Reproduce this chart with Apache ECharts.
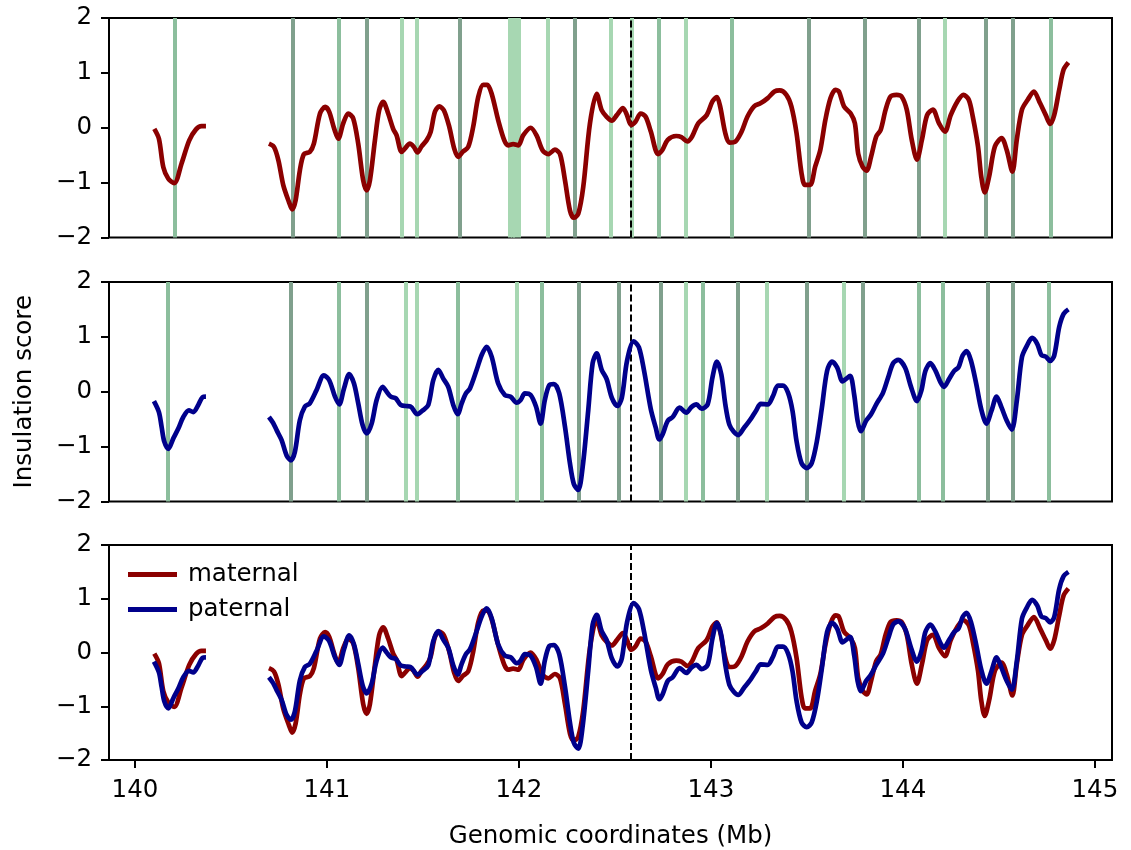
<!DOCTYPE html>
<html>
<head>
<meta charset="utf-8">
<script src="https://cdn.jsdelivr.net/npm/echarts@6/dist/echarts.min.js"></script>
<style>
html,body{margin:0;padding:0;background:#fff;}
#chart{width:1131px;height:850px;}
</style>
</head>
<body>
<div id="chart"></div>
<script>
// ---- data (Mb, insulation score) ----
const matX = [140.101,140.125,140.148,140.174,140.205,140.243,140.283,140.318,140.347,140.370,140.53,
140.698,140.724,140.747,140.773,140.802,140.819,140.837,140.859,140.880,140.911,140.932,140.964,140.991,141.012,141.038,141.059,141.085,141.111,141.137,141.163,141.189,141.207,141.224,141.250,141.272,141.293,141.319,141.345,141.363,141.389,141.406,141.432,141.453,141.472,141.493,141.519,141.540,141.5625,141.585,141.609,141.637,141.663,141.684,141.707,141.736,141.762,141.788,141.814,141.835,141.858,141.892,141.924,141.944,141.970,141.997,142.022,142.061,142.092,142.123,142.153,142.1875,142.214,142.240,142.266,142.286,142.309,142.335,142.370,142.405,142.431,142.457,142.484,142.510,142.542,142.563,142.584,142.607,142.634,142.660,142.687,142.725,142.748,142.775,142.819,142.846,142.878,142.902,142.934,142.978,143.008,143.031,143.048,143.075,143.096,143.128,143.160,143.190,143.225,143.260,143.296,143.331,143.358,143.393,143.419,143.446,143.472,143.490,143.517,143.543,143.570,143.596,143.623,143.649,143.667,143.693,143.728,143.750,143.767,143.790,143.811,143.834,143.861,143.884,143.910,143.936,143.967,143.993,144.020,144.046,144.073,144.099,144.126,144.156,144.188,144.219,144.249,144.284,144.315,144.343,144.364,144.391,144.408,144.426,144.449,144.479,144.514,144.541,144.570,144.593,144.620,144.650,144.682,144.714,144.744,144.767,144.788,144.814,144.837,144.862];
const matY = [-0.02,-0.20,-0.72,-0.93,-1.01,-0.65,-0.23,-0.03,0.03,0.03,null,
-0.29,-0.35,-0.59,-1.05,-1.35,-1.49,-1.32,-0.78,-0.48,-0.44,-0.29,0.26,0.38,0.29,-0.02,-0.20,0.08,0.26,0.17,-0.29,-0.96,-1.14,-0.96,-0.23,0.32,0.47,0.26,-0.02,-0.14,-0.44,-0.38,-0.29,-0.35,-0.45,-0.34,-0.23,-0.08,0.29,0.39,0.32,0.02,-0.38,-0.53,-0.44,-0.35,0.02,0.56,0.78,0.78,0.62,0.14,-0.23,-0.32,-0.30,-0.32,-0.14,0.00,-0.14,-0.41,-0.48,-0.40,-0.48,-0.96,-1.51,-1.64,-1.57,-1.08,0.08,0.62,0.32,0.20,0.13,0.23,0.36,0.23,0.05,0.11,0.26,0.20,-0.07,-0.48,-0.40,-0.22,-0.15,-0.17,-0.25,-0.16,0.08,0.23,0.48,0.56,0.39,-0.10,-0.27,-0.25,-0.07,0.20,0.39,0.45,0.54,0.66,0.68,0.60,0.39,-0.10,-0.83,-1.04,-1.04,-0.71,-0.40,0.14,0.54,0.69,0.66,0.39,0.26,0.08,-0.47,-0.71,-0.78,-0.53,-0.16,-0.04,0.33,0.57,0.60,0.57,0.33,-0.22,-0.58,-0.22,0.23,0.33,0.08,-0.07,0.23,0.48,0.60,0.51,0.20,-0.34,-0.89,-1.18,-0.89,-0.34,-0.19,-0.41,-0.80,-0.22,0.33,0.51,0.66,0.45,0.23,0.07,0.23,0.69,1.06,1.19];

const patX = [140.099,140.125,140.139,140.153,140.174,140.200,140.226,140.252,140.281,140.304,140.330,140.352,140.370,140.53,
140.698,140.720,140.738,140.764,140.790,140.8125,140.833,140.859,140.885,140.911,140.946,140.984,141.012,141.042,141.064,141.089,141.116,141.141,141.163,141.186,141.207,141.233,141.259,141.290,141.311,141.333,141.359,141.384,141.411,141.436,141.471,141.499,141.528,141.554,141.580,141.606,141.632,141.658,141.681,141.702,141.724,141.745,141.780,141.806,141.832,141.858,141.892,141.927,141.957,141.988,142.009,142.031,142.061,142.089,142.113,142.135,142.158,142.182,142.210,142.240,142.266,142.286,142.309,142.332,142.361,142.384,142.405,142.431,142.457,142.484,142.513,142.536,142.563,142.598,142.625,142.652,142.687,142.713,142.731,142.748,142.775,142.801,142.837,142.872,142.898,142.925,142.951,142.983,143.008,143.031,143.054,143.075,143.096,143.119,143.142,143.172,143.207,143.234,143.260,143.296,143.323,143.349,143.375,143.402,143.425,143.446,143.472,143.499,143.525,143.552,143.578,143.605,143.631,143.658,143.685,143.702,143.725,143.746,143.764,143.781,143.808,143.834,143.861,143.896,143.923,143.949,143.976,144.011,144.043,144.073,144.096,144.117,144.143,144.170,144.196,144.214,144.240,144.267,144.290,144.311,144.332,144.355,144.382,144.408,144.435,144.461,144.488,144.514,144.541,144.567,144.593,144.620,144.646,144.673,144.700,144.721,144.744,144.767,144.788,144.814,144.837,144.862];
const patY = [-0.17,-0.37,-0.64,-0.91,-1.04,-0.85,-0.67,-0.46,-0.34,-0.37,-0.24,-0.10,-0.09,null,
-0.46,-0.57,-0.70,-0.88,-1.16,-1.25,-1.10,-0.52,-0.27,-0.21,0.03,0.30,0.21,-0.09,-0.23,0.06,0.32,0.15,-0.21,-0.61,-0.76,-0.58,-0.15,0.09,0.00,-0.09,-0.12,-0.24,-0.26,-0.27,-0.41,-0.34,-0.24,0.21,0.40,0.24,0.09,-0.24,-0.41,-0.21,-0.03,0.06,0.40,0.67,0.82,0.64,0.15,-0.06,-0.09,-0.20,-0.15,-0.03,-0.06,-0.27,-0.58,-0.15,0.12,0.14,-0.03,-0.64,-1.31,-1.68,-1.79,-1.37,-0.34,0.52,0.70,0.40,0.23,-0.11,-0.26,-0.11,0.56,0.92,0.81,0.38,-0.32,-0.66,-0.87,-0.78,-0.53,-0.46,-0.29,-0.38,-0.28,-0.23,-0.31,-0.23,0.26,0.55,0.32,-0.23,-0.60,-0.73,-0.79,-0.66,-0.50,-0.35,-0.22,-0.23,-0.08,0.11,0.11,-0.02,-0.35,-0.90,-1.30,-1.39,-1.30,-0.90,-0.29,0.38,0.55,0.44,0.19,0.23,0.29,-0.05,-0.53,-0.72,-0.53,-0.41,-0.23,-0.02,0.26,0.52,0.58,0.44,0.08,-0.17,0.02,0.38,0.52,0.38,0.17,0.09,0.23,0.38,0.45,0.66,0.74,0.56,0.14,-0.32,-0.58,-0.35,-0.09,-0.29,-0.53,-0.69,-0.17,0.63,0.84,0.98,0.87,0.67,0.64,0.56,0.66,1.18,1.42,1.50];

// TAD boundaries (Mb) and boundary strength class (1 weak .. 3 strong)
const matBounds = [140.205,140.825,141.064,141.212,141.392,141.472,141.693,141.950,141.967,141.984,141.996,142.153,142.292,142.484,142.593,142.731,142.872,143.114,143.511,143.803,144.081,144.223,144.431,144.572,144.773];
const matStrength = [2,3,2,3,1,1,3,1,1,1,1,1,3,1,1,2,1,2,3,3,3,1,3,3,2];
const patBounds = [140.174,140.8125,141.064,141.212,141.415,141.474,141.684,141.993,142.123,142.3125,142.522,142.740,142.872,142.957,143.142,143.292,143.503,143.693,143.794,144.081,144.214,144.443,144.572,144.764];
const patStrength = [2,3,2,3,1,1,2,1,2,3,3,3,1,2,3,1,3,1,3,2,2,3,3,2];
const viewpoint = 142.578;

const xTicks = [140,141,142,143,144,145];
const yTicks = [-2,-1,0,1,2];
const xLabel = 'Genomic coordinates (Mb)';
const yLabel = 'Insulation score';
const names = ['maternal','paternal'];

// ---- chart ----
const FONT = 'DejaVu Sans';
const FS = 24.5;
const matColor = '#8B0000', patColor = '#00008B';
const shade = {1:'#A7D7B2', 2:'#8CBE9D', 3:'#80A08D'};
const xMin = 139.865, xMax = 145.089;

function pairs(xs, ys){ return xs.map((x,i)=>[x, ys[i]===null ? '-' : ys[i]]); }
const minus = v => String(v).replace('-', '\u2212');

const tops = [18, 282, 545];
const grids = tops.map(t => ({left:109, width:1003, top:t, height:219.5, show:true, borderColor:'#000', borderWidth:2, backgroundColor:'transparent'}));

const xAxes = tops.map((t,i)=>({
  type:'value', gridIndex:i, min:xMin, max:xMax, position:'bottom',
  axisLine:{show:false, onZero:false}, splitLine:{show:false},
  axisTick:{show:i===2, length:8, lineStyle:{color:'#000', width:2}, customValues: xTicks},
  axisLabel:{show:i===2, color:'#000', fontFamily:FONT, fontSize:FS, margin:18, customValues: xTicks},
  name: i===2 ? xLabel : '', nameLocation:'middle', nameGap:64,
  nameTextStyle:{color:'#000', fontFamily:FONT, fontSize:FS}
}));
const yAxes = tops.map((t,i)=>({
  type:'value', gridIndex:i, min:-2, max:2, interval:1,
  axisLine:{show:false, onZero:false}, splitLine:{show:false},
  axisTick:{show:true, length:8, lineStyle:{color:'#000', width:2}},
  axisLabel:{color:'#000', fontFamily:FONT, fontSize:FS, margin:17, formatter: v => minus(v)},
  name: i===1 ? yLabel : '', nameLocation:'middle', nameGap:72, nameRotate:90,
  nameTextStyle:{color:'#000', fontFamily:FONT, fontSize:FS}
}));

function boundarySeries(idx, bounds, strength){
  return {
    type:'line', xAxisIndex:idx, yAxisIndex:idx, data:[], silent:true, z:1,
    markLine:{
      silent:true, symbol:['none','none'], label:{show:false}, animation:false,
      data: bounds.map((b,k)=>({xAxis:b, lineStyle:{color:shade[strength[k]], width:4, type:'solid', opacity:1}}))
    }
  };
}
function dashSeries(idx){
  return {
    type:'line', xAxisIndex:idx, yAxisIndex:idx, data:[], silent:true, z:3,
    markLine:{silent:true, symbol:['none','none'], label:{show:false}, animation:false,
      data:[{xAxis:viewpoint, lineStyle:{color:'#000', width:2, type:[7,3]}}]}
  };
}
function curve(idx, name, xs, ys, color){
  return {
    type:'line', name:name, xAxisIndex:idx, yAxisIndex:idx, data:pairs(xs,ys),
    showSymbol:false, smooth:0.3, connectNulls:false, z:5,
    lineStyle:{color:color, width:4.7}, itemStyle:{color:color}
  };
}

const series = [
  boundarySeries(0, matBounds, matStrength), dashSeries(0), curve(0, 'maternal', matX, matY, matColor),
  boundarySeries(1, patBounds, patStrength), dashSeries(1), curve(1, 'paternal', patX, patY, patColor),
  dashSeries(2), curve(2, 'maternal', matX, matY, matColor), curve(2, 'paternal', patX, patY, patColor)
];

const chart = echarts.init(document.getElementById('chart'), null, {renderer:'canvas'});
chart.setOption({
  animation:false,
  backgroundColor:'#fff',
  grid: grids,
  xAxis: xAxes,
  yAxis: yAxes,
  legend:{
    data: names, left:123, top:557, orient:'vertical', icon:'rect',
    itemWidth:49, itemHeight:5, itemGap:10,
    textStyle:{color:'#000', fontFamily:FONT, fontSize:FS, padding:[0,0,0,6]},
    selectedMode:false
  },
  series: series
});
</script>
</body>
</html>
